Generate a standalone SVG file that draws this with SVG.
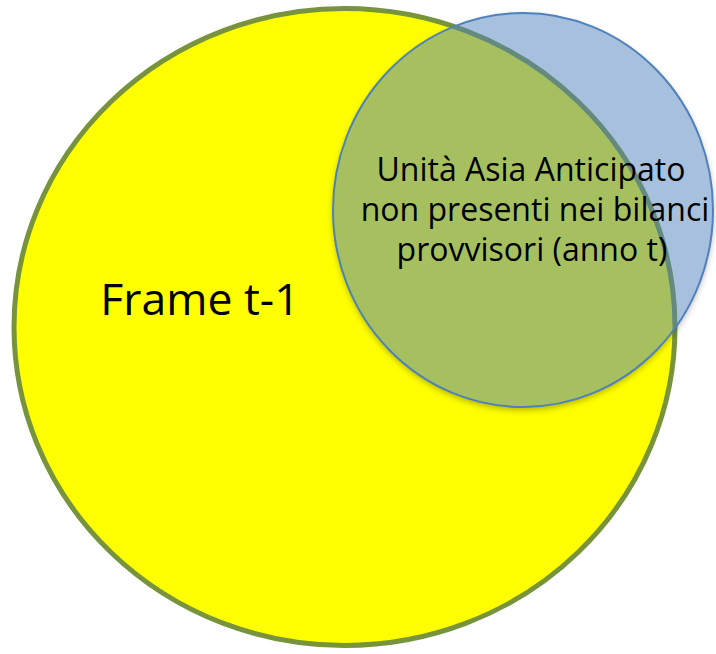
<svg xmlns="http://www.w3.org/2000/svg" width="716" height="654" viewBox="0 0 716 654">
<defs>
<style>
.lbl{font-family:"Open Sans","Noto Sans","Liberation Sans",sans-serif;fill:#000;text-anchor:middle}
</style>
<filter id="blur" x="-10%" y="-10%" width="120%" height="125%">
<feGaussianBlur stdDeviation="3"/>
</filter>
<mask id="outside" maskUnits="userSpaceOnUse" x="0" y="0" width="716" height="654">
<rect width="716" height="654" fill="#fff"/>
<ellipse cx="523" cy="210" rx="190" ry="197" fill="#000"/>
</mask>
</defs>
<rect width="716" height="654" fill="#fff"/>
<g id="frame">
<ellipse cx="344.5" cy="327" rx="330.5" ry="318.5" fill="#ffff00" stroke="#77933c" stroke-width="5"/>
<text class="lbl" x="200" y="315" font-size="44.5">Frame t-1</text>
</g>
<g id="asia">
<g mask="url(#outside)"><ellipse cx="523" cy="213" rx="190" ry="197" fill="#000" fill-opacity="0.3" filter="url(#blur)"/></g>
<ellipse cx="523" cy="210" rx="190" ry="197" fill="#4f81bd" fill-opacity="0.5" stroke="#4f81bd" stroke-width="2"/>
<text class="lbl" font-size="32"><tspan x="531" y="181">Unità Asia Anticipato</tspan><tspan x="535" y="221">non presenti nei bilanci</tspan><tspan x="532" y="261">provvisori (anno t)</tspan></text>
</g>
<g id="connectors"/>
</svg>
